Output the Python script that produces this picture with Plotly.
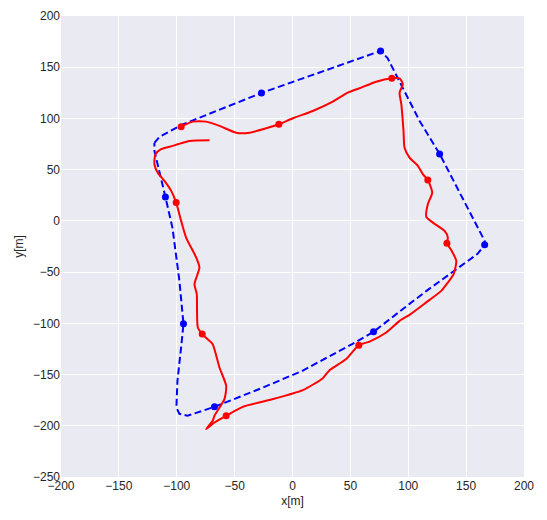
import plotly.graph_objects as go

# Reference trajectory (blue dashed)
ref_x = [-119.3, -115.0, -95.9, -26.8, 76.1, 82.1, 109.8, 127.1, 166.0, 166.0, 159.9, 141.7,
         115.8, 101.1, 70.0, 51.9, 8.6, -25.9, -67.4, -90.8, -97.7, -100.3, -99.4, -95.9,
         -94.2, -97.7, -103.7, -109.8, -116.7, -119.3, -119.3]
ref_y = [76.1, 82.0, 93.7, 124.9, 165.9, 159.0, 97.6, 65.4, -19.5, -23.4, -32.2, -46.8,
         -68.3, -81.0, -108.3, -120.0, -146.3, -162.9, -181.5, -190.2, -188.3, -182.4, -156.1, -120.0,
         -100.5, -58.5, -6.8, 23.4, 55.6, 68.3, 76.1]
ref_mx = [-26.8, 76.1, 127.1, 166.0, 70.0, -67.4, -94.2, -109.8]
ref_my = [124.9, 165.9, 65.4, -23.4, -108.3, -181.5, -100.5, 23.4]

# Estimated trajectory (red solid)
est_x = [-96.2, -86.2, -74.6, -63.1, -48.7, -37.2, -22.7, -11.8, 0.3, 17.5, 34.8, 47.8, 57.9, 72.3,
         85.8, 92.5, 95.3, 92.5, 94.0, 95.9, 96.8, 101.1, 108.3, 112.6, 116.9, 120.7, 116.9, 115.6,
         121.3, 131.4, 134.2, 133.4, 137.2, 141.5, 139.2, 134.2, 128.5, 115.0, 101.1, 92.5, 81.0, 66.6,
         57.3, 46.4, 32.0, 26.2, 8.9, -19.9, -43.0, -57.3, -67.4, -74.6, -68.9, -67.4, -58.8, -57.3,
         -63.1, -68.9, -71.7, -78.0, -81.8, -82.7, -84.7, -80.4, -83.2, -91.9, -96.2, -100.5, -104.8,
         -110.6, -116.4, -119.3, -118.4, -113.5, -103.5, -99.1, -89.0, -71.7]
est_y = [92.0, 96.9, 96.9, 92.7, 86.1, 86.1, 90.4, 94.3, 100.2, 107.3, 116.4, 125.2, 129.5, 135.9,
         139.2, 139.2, 133.4, 125.2, 113.9, 87.8, 71.5, 61.8, 53.7, 45.6, 40.0, 27.6, 16.3, 3.9,
         -1.7, -9.8, -16.3, -21.8, -28.6, -39.0, -52.0, -60.2, -68.3, -80.0, -91.7, -97.6, -109.0, -117.8,
         -121.3, -134.9, -145.7, -153.5, -165.2, -174.9, -181.5, -190.2, -196.8, -203.2, -195.1, -190.2, -174.0, -161.0,
         -143.1, -120.3, -117.1, -110.5, -104.1, -71.5, -61.8, -45.6, -35.8, -16.3, 0.0, 17.9, 29.3,
         39.0, 47.1, 55.3, 65.1, 70.0, 73.2, 74.8, 78.0, 78.7]
est_mx = [-96.2, -11.8, 85.8, 116.9, 133.4, 57.3, -57.3, -78.0, -100.5]
est_my = [92.0, 94.3, 139.2, 40.0, -21.8, -121.3, -190.2, -110.5, 17.9]

tick_vals_x = [-200, -150, -100, -50, 0, 50, 100, 150, 200]
tick_vals_y = [-250, -200, -150, -100, -50, 0, 50, 100, 150, 200]

def lab(v):
    return ("\u2212" + str(abs(v))) if v < 0 else str(v)

fig = go.Figure()
fig.add_trace(go.Scatter(x=ref_x, y=ref_y, mode="lines",
                         line=dict(color="#0000ff", width=2, dash="7px,3.5px"), showlegend=False))
fig.add_trace(go.Scatter(x=ref_mx, y=ref_my, mode="markers",
                         marker=dict(color="#0000ff", size=7), showlegend=False))
fig.add_trace(go.Scatter(x=est_x, y=est_y, mode="lines", line=dict(color="#ff0000", width=2, shape="spline", smoothing=0.6),
                         showlegend=False))
fig.add_trace(go.Scatter(x=est_mx, y=est_my, mode="markers",
                         marker=dict(color="#ff0000", size=7), showlegend=False))

axis_common = dict(showgrid=True, gridcolor="white", gridwidth=1, zeroline=False, showline=False,
                   automargin=False, ticks="",
                   tickfont=dict(family="Liberation Sans, Arial, sans-serif", size=12, color="#262626"))

fig.update_layout(
    width=539, height=512,
    margin=dict(l=53, r=23, t=8, b=43),
    paper_bgcolor="white", plot_bgcolor="#EAEAF2",
    font=dict(family="Liberation Sans, Arial, sans-serif", size=12, color="#262626"),
    xaxis=dict(range=[-200, 200], tickvals=tick_vals_x, ticktext=[lab(v) for v in tick_vals_x],
               title=dict(text="x[m]", standoff=4, font=dict(size=12)), **axis_common),
    yaxis=dict(range=[-250, 200], tickvals=tick_vals_y, ticktext=[lab(v) for v in tick_vals_y],
               title=dict(text="y[m]", standoff=6, font=dict(size=12)), **axis_common),
)

fig.write_html("out.html")
